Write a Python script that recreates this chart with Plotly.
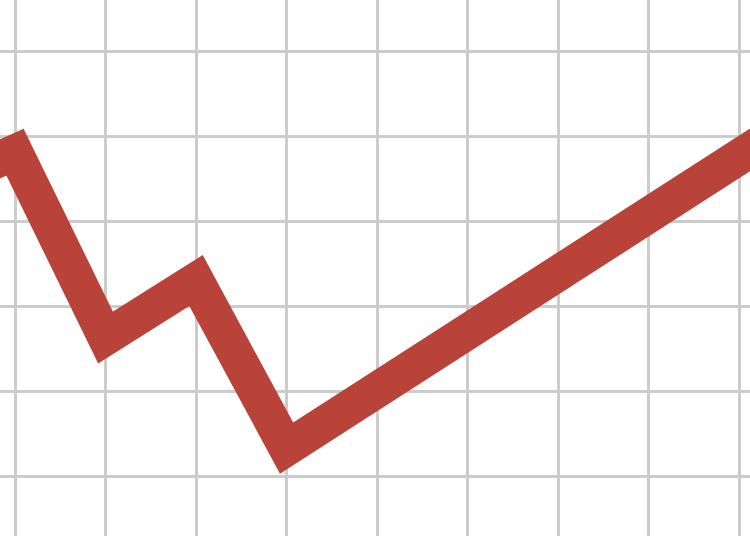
import plotly.graph_objects as go

# values in grid units (one grid cell = 1)
x_vals = [-1, 0, 1, 2, 3, 9]
y_vals = [3.35, 3.82, 1.64, 2.31, 0.34, 4.45]

line_color = "#b94339"
grid_color = "#cccccc"

fig = go.Figure()
fig.add_trace(go.Scatter(
    x=x_vals, y=y_vals, mode="lines",
    line=dict(color=line_color, width=36),
    hoverinfo="skip", showlegend=False,
))

fig.update_xaxes(range=[-0.166, 8.12], dtick=1, tick0=0,
                 showgrid=True, gridcolor=grid_color, gridwidth=3,
                 zeroline=False, showticklabels=False, ticks="")
fig.update_yaxes(range=[-0.694, 5.61], dtick=1, tick0=0,
                 showgrid=True, gridcolor=grid_color, gridwidth=3,
                 zeroline=False, showticklabels=False, ticks="")

fig.update_layout(
    width=750, height=536,
    margin=dict(l=0, r=0, t=0, b=0),
    paper_bgcolor="white", plot_bgcolor="white",
)

# page body has a default 8px margin, drop it so the chart fills the window
fig.write_html("out.html", config={"displayModeBar": False},
               post_script="document.body.style.margin='0';")
